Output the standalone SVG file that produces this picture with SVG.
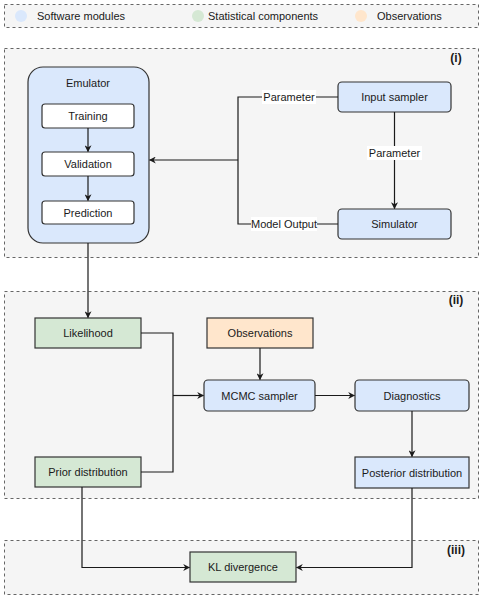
<svg xmlns="http://www.w3.org/2000/svg" width="484" height="600" viewBox="0 0 484 600">
<style>
text{font-family:"Liberation Sans",Arial,sans-serif;font-size:11px;fill:#1a1a1a;text-anchor:middle;dominant-baseline:central}
.panel{fill:#f5f5f5;stroke:#666;stroke-width:1;stroke-dasharray:3 3}
.blue{fill:#dae8fc;stroke:#333;stroke-width:1.2}
.green{fill:#d5e8d4;stroke:#333;stroke-width:1.2}
.orange{fill:#ffe6cc;stroke:#333;stroke-width:1.2}
.white{fill:#fff;stroke:#333;stroke-width:1.2}
.edge{fill:none;stroke:#1a1a1a;stroke-width:1.2}
.lbl{font-weight:bold;font-size:12px}
.lab{fill:#fff}
</style>
<defs>
<marker id="ah" viewBox="0 0 10 10" refX="9" refY="5" markerWidth="7" markerHeight="7" markerUnits="userSpaceOnUse" orient="auto">
<path d="M0,0 L10,5 L0,10 L3,5 Z" fill="#1a1a1a"/>
</marker>
</defs>
<g id="legend">
<rect class="panel" x="4.5" y="4.5" width="474" height="23"/>
<circle cx="21" cy="16" r="6" fill="#dae8fc"/>
<text x="37" y="16" style="text-anchor:start">Software modules</text>
<circle cx="198" cy="16" r="6" fill="#d5e8d4"/>
<text x="208" y="16" style="text-anchor:start">Statistical components</text>
<circle cx="361" cy="16" r="6" fill="#ffe6cc"/>
<text x="377" y="16" style="text-anchor:start">Observations</text>
</g>
<g id="panel-i">
<rect class="panel" x="4.5" y="48.5" width="474" height="209"/>
<text class="lbl" x="456" y="58">(i)</text>
</g>
<g id="panel-ii">
<rect class="panel" x="4.5" y="291.5" width="474" height="207"/>
<text class="lbl" x="456" y="300">(ii)</text>
</g>
<g id="panel-iii">
<rect class="panel" x="4.5" y="540.5" width="474" height="54"/>
<text class="lbl" x="456" y="550">(iii)</text>
</g>
<g id="emulator">
<rect class="blue" x="28" y="67" width="121" height="176" rx="15"/>
<text x="88" y="83">Emulator</text>
</g>
<g id="training">
<rect class="white" x="42" y="104" width="92" height="24" rx="3"/>
<text x="88" y="116">Training</text>
</g>
<g id="validation">
<rect class="white" x="42" y="152" width="92" height="24" rx="3"/>
<text x="88" y="164">Validation</text>
</g>
<g id="prediction">
<rect class="white" x="42" y="201" width="92" height="23" rx="3"/>
<text x="88" y="212.5">Prediction</text>
</g>
<g id="input-sampler">
<rect class="blue" x="338" y="82" width="113" height="30" rx="4"/>
<text x="394.5" y="97">Input sampler</text>
</g>
<g id="simulator">
<rect class="blue" x="338" y="209" width="113" height="30" rx="4"/>
<text x="394.5" y="224">Simulator</text>
</g>
<g id="likelihood">
<rect class="green" x="35" y="318" width="106" height="30"/>
<text x="88" y="333">Likelihood</text>
</g>
<g id="prior">
<rect class="green" x="35" y="457" width="106" height="30"/>
<text x="88" y="472">Prior distribution</text>
</g>
<g id="observations">
<rect class="orange" x="207" y="318" width="106" height="30"/>
<text x="260" y="333">Observations</text>
</g>
<g id="mcmc">
<rect class="blue" x="204" y="380" width="111" height="31" rx="4"/>
<text x="259.5" y="395.5">MCMC sampler</text>
</g>
<g id="diagnostics">
<rect class="blue" x="355" y="380" width="114" height="31" rx="4"/>
<text x="412" y="395.5">Diagnostics</text>
</g>
<g id="posterior">
<rect class="blue" x="355" y="457" width="114" height="31"/>
<text x="412" y="472.5">Posterior distribution</text>
</g>
<g id="kl">
<rect class="green" x="190" y="552" width="106" height="30"/>
<text x="243" y="567">KL divergence</text>
</g>
<g id="connectors">
<path class="edge" d="M88,128 V151.5" marker-end="url(#ah)"/>
<path class="edge" d="M88,176 V200.5" marker-end="url(#ah)"/>
<path class="edge" d="M338,97 H238 V224 H338"/>
<path class="edge" d="M238,160 H149.5" marker-end="url(#ah)"/>
<path class="edge" d="M394.5,112 V208.5" marker-end="url(#ah)"/>
<path class="edge" d="M88,243 V317.5" marker-end="url(#ah)"/>
<path class="edge" d="M141,333 H173 V472 H141"/>
<path class="edge" d="M173,395.5 H203.5" marker-end="url(#ah)"/>
<path class="edge" d="M260,348 V379.5" marker-end="url(#ah)"/>
<path class="edge" d="M315,395.5 H354.5" marker-end="url(#ah)"/>
<path class="edge" d="M412,411 V456.5" marker-end="url(#ah)"/>
<path class="edge" d="M82,487 V567.5 H189.5" marker-end="url(#ah)"/>
<path class="edge" d="M412,488 V567.5 H296.5" marker-end="url(#ah)"/>
<rect class="lab" x="262" y="90" width="54" height="14"/>
<text x="289" y="97">Parameter</text>
<rect class="lab" x="251" y="217" width="66" height="14"/>
<text x="284" y="224">Model Output</text>
<rect class="lab" x="367" y="146" width="55" height="14"/>
<text x="394.5" y="153">Parameter</text>
</g>
</svg>
